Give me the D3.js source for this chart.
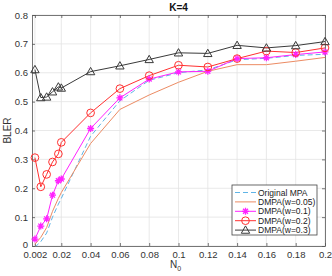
<!DOCTYPE html>
<html>
<head>
<meta charset="utf-8">
<script src="https://cdn.jsdelivr.net/npm/d3@7"></script>
<style>
    body { margin: 0; background: #fff; }
    svg { font-family: "Liberation Sans", Arial, sans-serif; }
</style>
</head>
<body>
<div id="chart"></div>
<script>
// noise levels (N0)
const n0 = [0.002, 0.006, 0.01, 0.014, 0.018, 0.02, 0.04, 0.06, 0.08, 0.1, 0.12, 0.14, 0.16, 0.18, 0.2];
const xTicks = [0.002, 0.02, 0.04, 0.06, 0.08, 0.1, 0.12, 0.14, 0.16, 0.18, 0.2];
const yTicks = [0, 0.1, 0.2, 0.3, 0.4, 0.5, 0.6, 0.7, 0.8];

const originalMPA = [-0.004, 0.015, 0.045, 0.1, 0.145, 0.165, 0.38, 0.503, 0.574, 0.6, 0.61, 0.645, 0.65, 0.66, 0.664];
const dmpa005 = [0.006, 0.03, 0.064, 0.12, 0.165, 0.185, 0.355, 0.473, 0.523, 0.567, 0.605, 0.628, 0.628, 0.64, 0.653];
const dmpa01 = [0.024, 0.069, 0.094, 0.176, 0.226, 0.232, 0.407, 0.513, 0.578, 0.603, 0.605, 0.649, 0.652, 0.663, 0.672];
const dmpa02 = [0.306, 0.205, 0.248, 0.291, 0.319, 0.359, 0.461, 0.545, 0.59, 0.626, 0.62, 0.649, 0.675, 0.67, 0.686];
const dmpa03 = [0.611, 0.514, 0.516, 0.534, 0.551, 0.547, 0.604, 0.624, 0.646, 0.669, 0.667, 0.695, 0.686, 0.694, 0.708];

const series = [
    { name: 'Original MPA', values: originalMPA, color: '#5fb4e6', dash: '5,3', marker: null },
    { name: 'DMPA(w=0.05)', values: dmpa005, color: '#ec8b63', dash: null, marker: null },
    { name: 'DMPA(w=0.1)', values: dmpa01, color: '#ff22ff', dash: null, marker: 'star' },
    { name: 'DMPA(w=0.2)', values: dmpa02, color: '#ff3030', dash: null, marker: 'circle' },
    { name: 'DMPA(w=0.3)', values: dmpa03, color: '#3a3a3a', dash: null, marker: 'triangle' }
];

const width = 332, height = 276;
const margin = { top: 15, right: 7, bottom: 30, left: 32 };
const w = width - margin.left - margin.right,
    h = height - margin.top - margin.bottom;

const svg = d3.select('#chart').append('svg')
    .attr('width', width)
    .attr('height', height);

const g = svg.append('g')
    .attr('transform', 'translate(' + margin.left + ',' + margin.top + ')');

const x = d3.scaleLinear().domain([0, 0.2]).range([0, w]);
const y = d3.scaleLinear().domain([0, 0.8]).range([h, 0]);

// grid
g.append('g').selectAll('line').data(xTicks).enter().append('line')
    .attr('x1', d => x(d)).attr('x2', d => x(d))
    .attr('y1', 0).attr('y2', h)
    .attr('stroke', '#e3e3e3').attr('stroke-width', 0.8);
g.append('g').selectAll('line').data(yTicks).enter().append('line')
    .attr('x1', 0).attr('x2', w)
    .attr('y1', d => y(d)).attr('y2', d => y(d))
    .attr('stroke', '#e3e3e3').attr('stroke-width', 0.8);

// axes
const xAxis = g.append('g')
    .attr('transform', 'translate(0,' + h + ')')
    .call(d3.axisBottom(x).tickValues(xTicks).tickSizeInner(-3).tickSizeOuter(0)
        .tickFormat(d => String(+d.toFixed(3))));
const yAxis = g.append('g')
    .call(d3.axisLeft(y).tickValues(yTicks).tickSizeInner(-3).tickSizeOuter(0)
        .tickFormat(d => String(+d.toFixed(1))));
g.append('g')
    .call(d3.axisTop(x).tickValues(xTicks).tickSizeInner(-3).tickSizeOuter(0).tickFormat(''));
g.append('g')
    .attr('transform', 'translate(' + w + ',0)')
    .call(d3.axisRight(y).tickValues(yTicks).tickSizeInner(-3).tickSizeOuter(0).tickFormat(''));

g.selectAll('.domain').attr('stroke', '#555').attr('stroke-width', 0.8);
g.selectAll('.tick line').attr('stroke', '#555').attr('stroke-width', 0.8);
xAxis.selectAll('text').attr('font-size', 9.5).attr('fill', '#333').attr('y', 4).attr('dy', '0.85em');
yAxis.selectAll('text').attr('font-size', 9.5).attr('fill', '#333').attr('x', -4);
// bottom y label sits a touch higher so it clears the first x label
yAxis.selectAll('.tick').filter(d => d === 0).select('text').attr('dy', '0.2em');

// lines
const line = d3.line()
    .x((d, i) => x(n0[i]))
    .y(d => y(d));

svg.append('clipPath').attr('id', 'clip')
    .append('rect').attr('width', w).attr('height', h);

const plot = g.append('g').attr('clip-path', 'url(#clip)');

function drawMarker(sel, type, color, size) {
    if (type === 'circle') {
        sel.append('circle').attr('r', size * 0.55)
            .attr('fill', 'none').attr('stroke', color).attr('stroke-width', 1);
    } else if (type === 'triangle') {
        sel.append('path')
            .attr('d', 'M0,' + (-size * 0.6) + 'L' + (size * 0.6) + ',' + (size * 0.45) + 'L' + (-size * 0.6) + ',' + (size * 0.45) + 'Z')
            .attr('fill', 'none').attr('stroke', color).attr('stroke-width', 1);
    } else if (type === 'star') {
        const r = size * 0.5;
        const p = [];
        for (let k = 0; k < 4; k++) {
            const a = k * Math.PI / 4;
            p.push('M' + (-r * Math.cos(a)) + ',' + (-r * Math.sin(a)) + 'L' + (r * Math.cos(a)) + ',' + (r * Math.sin(a)));
        }
        sel.append('path').attr('d', p.join(''))
            .attr('stroke', color).attr('stroke-width', 1.3);
    }
}

series.forEach(s => {
    plot.append('path')
        .datum(s.values)
        .attr('d', line)
        .attr('fill', 'none')
        .attr('stroke', s.color)
        .attr('stroke-width', 1)
        .attr('stroke-dasharray', s.dash);
    if (s.marker) {
        g.append('g').selectAll('g').data(s.values).enter().append('g')
            .attr('transform', (d, i) => 'translate(' + x(n0[i]) + ',' + y(d) + ')')
            .each(function () { drawMarker(d3.select(this), s.marker, s.color, 7); });
    }
});

// title and axis labels
svg.append('text')
    .attr('x', margin.left + w / 2).attr('y', 11)
    .attr('text-anchor', 'middle')
    .attr('font-size', 10).attr('font-weight', 'bold').attr('fill', '#111')
    .text('K=4');

const xl = svg.append('text')
    .attr('x', margin.left + w / 2 - 3).attr('y', height - 8)
    .attr('text-anchor', 'middle')
    .attr('font-size', 10).attr('fill', '#333');
xl.append('tspan').text('N');
xl.append('tspan').attr('font-size', 7).attr('dy', 3).text('0');

svg.append('text')
    .attr('transform', 'translate(11,' + (margin.top + h / 2) + ') rotate(-90)')
    .attr('text-anchor', 'middle')
    .attr('font-size', 10).attr('fill', '#333')
    .text('BLER');

// legend
const lx = 232, ly = 185, lw = 85, rowH = 9.4;
const legend = svg.append('g');
legend.append('rect')
    .attr('x', lx).attr('y', ly)
    .attr('width', lw).attr('height', rowH * series.length + 3)
    .attr('fill', '#fff').attr('stroke', '#444').attr('stroke-width', 0.8);
series.forEach((s, i) => {
    const cy = ly + 7.5 + i * rowH;
    legend.append('line')
        .attr('x1', lx + 3).attr('x2', lx + 24)
        .attr('y1', cy).attr('y2', cy)
        .attr('stroke', s.color).attr('stroke-width', 1)
        .attr('stroke-dasharray', s.dash);
    if (s.marker) {
        const m = legend.append('g').attr('transform', 'translate(' + (lx + 13.5) + ',' + cy + ')');
        drawMarker(m, s.marker, s.color, 7);
    }
    legend.append('text')
        .attr('x', lx + 26).attr('y', cy + 3)
        .attr('font-size', 8.5).attr('fill', '#222')
        .text(s.name);
});
</script>
</body>
</html>
